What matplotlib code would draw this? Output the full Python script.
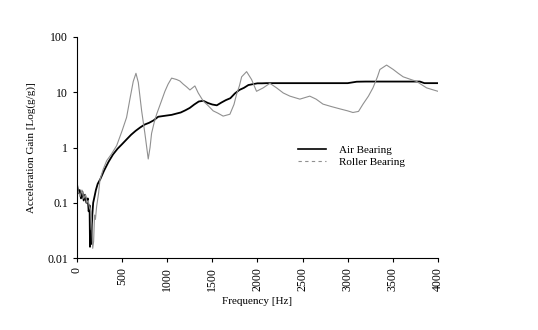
import matplotlib.pyplot as plt
from matplotlib.lines import Line2D

# Air bearing response (frequency in Hz, gain in g/g)
air_freq = [0, 15, 30, 45, 60, 75, 90, 105, 120, 130, 140, 145, 150, 160, 170, 180, 195,
            210, 230, 260, 300, 350, 400, 450, 500, 550, 600, 650, 700, 750, 800, 850,
            900, 950, 1000, 1050, 1100, 1150, 1200, 1250, 1300, 1350, 1400, 1450, 1500,
            1550, 1600, 1650, 1700, 1750, 1800, 1850, 1900, 1950, 2000, 2050, 2100,
            2200, 2400, 2600, 2800, 3000, 3100, 3200, 3400, 3600, 3800, 3850, 3900, 4000]
air_gain = [0.22, 0.15, 0.17, 0.12, 0.16, 0.11, 0.14, 0.10, 0.12, 0.07, 0.09, 0.016, 0.03,
            0.018, 0.06, 0.10, 0.13, 0.17, 0.22, 0.27, 0.38, 0.55, 0.75, 0.95, 1.15, 1.4,
            1.7, 2.0, 2.3, 2.6, 2.8, 3.1, 3.6, 3.7, 3.8, 3.9, 4.1, 4.3, 4.7, 5.2, 6.0, 6.8,
            7.0, 6.4, 6.0, 5.8, 6.5, 7.2, 7.8, 9.5, 11.0, 12.0, 13.5, 14.0, 14.5, 14.5,
            14.6, 14.6, 14.6, 14.6, 14.6, 14.6, 15.5, 15.6, 15.6, 15.6, 15.6, 14.6, 14.6,
            14.6]

# Roller bearing response
roller_freq = [0, 15, 35, 55, 75, 95, 110, 125, 140, 155, 165, 175, 185, 195, 205, 218,
               240, 255, 290, 330, 380, 440, 500, 550, 590, 624, 654, 680, 717, 753, 790,
               810, 827, 855, 883, 930, 975, 1010, 1049, 1104, 1140, 1178, 1215, 1252,
               1307, 1344, 1400, 1450, 1510, 1560, 1620, 1695, 1740, 1769, 1800, 1825,
               1880, 1935, 1990, 2064, 2138, 2212, 2286, 2360, 2470, 2580, 2650, 2726,
               2820, 2914, 3000, 3058, 3120, 3170, 3230, 3280, 3330, 3357, 3431, 3505,
               3560, 3615, 3700, 3763, 3874, 3950, 4000]
roller_gain = [0.20, 0.16, 0.13, 0.17, 0.12, 0.14, 0.10, 0.11, 0.08, 0.07, 0.04, 0.015,
               0.02, 0.06, 0.05, 0.085, 0.15, 0.26, 0.40, 0.58, 0.75, 1.08, 2.0, 3.5, 8.0,
               15.7, 22.0, 15.0, 4.6, 1.8, 0.62, 1.0, 1.8, 2.8, 4.0, 6.5, 10.4, 14.0, 18.0,
               17.0, 16.0, 14.0, 12.5, 11.0, 13.0, 9.7, 6.9, 5.8, 4.6, 4.2, 3.7, 4.0, 6.0,
               9.2, 13.0, 19.0, 23.6, 17.0, 10.4, 12.0, 14.5, 12.0, 9.7, 8.5, 7.5, 8.5,
               7.5, 6.1, 5.5, 5.0, 4.6, 4.3, 4.5, 6.1, 8.5, 12.0, 19.0, 25.8, 31.0, 25.8,
               22.0, 19.0, 17.0, 15.7, 12.0, 11.0, 10.4]

freq_ticks = [0, 500, 1000, 1500, 2000, 2500, 3000, 3500, 4000]
gain_ticks = [0.01, 0.1, 1, 10, 100]
gain_labels = ["0.01", "0.1", "1", "10", "100"]

plt.rcParams['font.family'] = ['Liberation Serif', 'DejaVu Serif']

fig = plt.figure(figsize=(5.38, 3.30), dpi=100)
ax = fig.add_axes([0.143, 0.218, 0.671, 0.670])

ax.plot(air_freq, air_gain, color="black", lw=1.3)
ax.plot(roller_freq, roller_gain, color="#909090", lw=0.8)

ax.set_yscale("log")
ax.set_xlim(0, 4000)
ax.set_ylim(0.01, 100)
ax.set_yticks(gain_ticks)
ax.set_yticklabels(gain_labels)
ax.minorticks_off()
ax.set_xticks(freq_ticks)
ax.set_xticklabels([str(f) for f in freq_ticks], rotation=90)
ax.tick_params(labelsize=8.5, length=3, width=0.8, direction="out")

for side in ["top", "right"]:
    ax.spines[side].set_visible(False)
ax.spines["left"].set_linewidth(0.8)
ax.spines["bottom"].set_linewidth(0.8)

ax.set_xlabel("Frequency [Hz]", fontsize=8, labelpad=4)
ax.set_ylabel("Acceleration Gain [Log(g/g)]", fontsize=8, labelpad=8)

handles = [Line2D([], [], color="black", lw=1.2),
           Line2D([], [], color="#909090", lw=0.8, ls=(0, (3, 3)))]
ax.legend(handles, ["Air Bearing", "Roller Bearing"], loc="upper left",
          bbox_to_anchor=(0.585, 0.555), frameon=False, fontsize=8,
          handlelength=2.5, handletextpad=1.2, labelspacing=0.2)

fig.savefig("out.png", dpi=100, facecolor="white")
